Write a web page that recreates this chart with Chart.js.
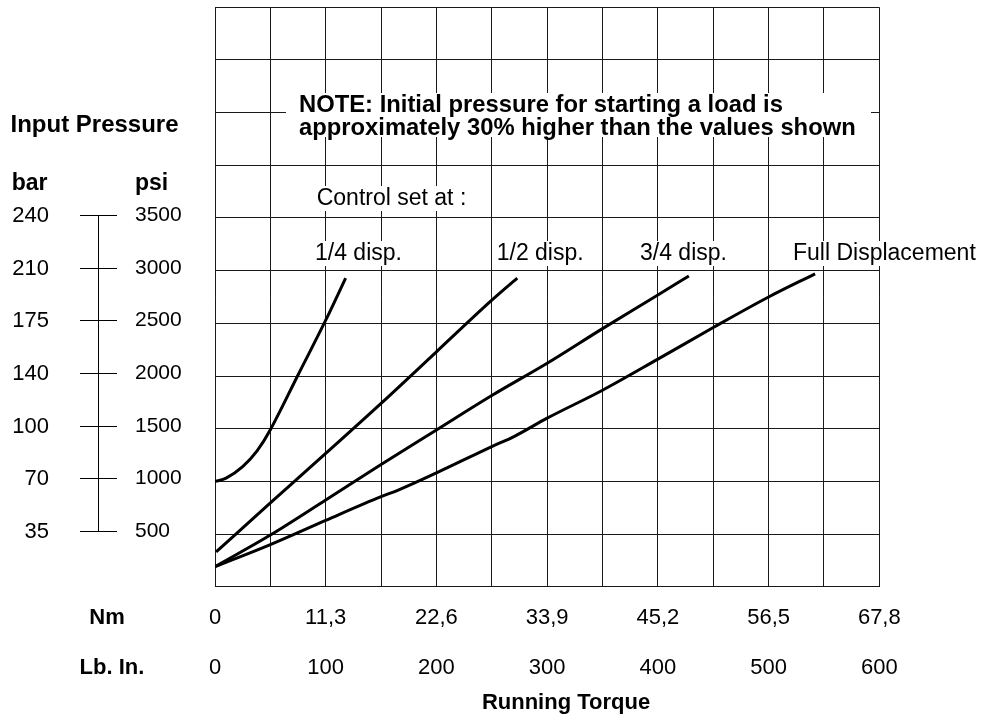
<!DOCTYPE html>
<html>
<head>
<meta charset="utf-8">
<script src="https://cdn.jsdelivr.net/npm/chart.js@4/dist/chart.umd.min.js"></script>
<style>
  body { margin: 0; background: #fff; }
  #wrap { width: 986px; height: 719px; position: relative; }
</style>
</head>
<body>
<div id="wrap"><canvas id="torqueChart"></canvas></div>
<script>
// tick labels
const lbInTicks = ['0', '100', '200', '300', '400', '500', '600'];
const nmTicks = ['0', '11,3', '22,6', '33,9', '45,2', '56,5', '67,8'];
const psiTicks = [500, 1000, 1500, 2000, 2500, 3000, 3500];
const barTicks = [35, 70, 100, 140, 175, 210, 240];

// curves: running torque (lb.in) vs input pressure (psi)
const quarterTorque = [0, 10, 25, 38, 50, 75, 100, 118];
const quarterPsi = [1000, 1030, 1140, 1290, 1490, 2010, 2530, 2930];
const halfTorque = [1, 50, 100, 150, 200, 250, 273];
const halfPsi = [330, 795, 1265, 1740, 2230, 2720, 2930];
const threeQTorque = [0, 50, 100, 150, 200, 250, 300, 350, 400, 428];
const threeQPsi = [190, 490, 823, 1160, 1488, 1815, 2121, 2450, 2769, 2950];
const fullTorque = [0, 50, 100, 150, 165, 200, 250, 270, 300, 350, 400, 450, 500, 542];
const fullPsi = [190, 400, 630, 855, 915, 1080, 1330, 1425, 1600, 1865, 2160, 2460, 2750, 2970];

const FAM = "'Liberation Sans', Arial, Helvetica, sans-serif";
Chart.defaults.font.family = FAM;
Chart.defaults.color = '#000';

function pts(xs, ys) {
  return xs.map((x, i) => ({ x: x, y: ys[i] }));
}

function curve(label, xs, ys, smooth) {
  return {
    label: label,
    data: pts(xs, ys),
    borderColor: '#000',
    borderWidth: 3,
    pointRadius: 0,
    fill: false,
    tension: smooth ? 0.4 : 0,
    cubicInterpolationMode: smooth ? 'default' : 'monotone'
  };
}

function boxedText(ctx, text, x, yBase, font) {
  ctx.font = font;
  const w = ctx.measureText(text).width;
  ctx.fillStyle = '#fff';
  ctx.fillRect(x - 2, yBase - 19, w + 4, 25);
  ctx.fillStyle = '#000';
  ctx.fillText(text, x, yBase);
}

const annotations = {
  id: 'annotations',
  beforeDatasetsDraw(chart) {
    const ctx = chart.ctx;
    const y = chart.scales.y;
    ctx.save();
    ctx.textBaseline = 'alphabetic';
    ctx.textAlign = 'left';

    // note box
    ctx.fillStyle = '#fff';
    ctx.fillRect(286, 93, 585, 44);
    ctx.fillStyle = '#000';
    ctx.font = 'bold 23.8px ' + FAM;
    ctx.fillText('NOTE: Initial pressure for starting a load is', 299, 111.7);
    ctx.fillText('approximately 30% higher than the values shown', 299, 135);

    const reg = '23px ' + FAM;
    boxedText(ctx, 'Control set at :', 316.7, 205, reg);
    boxedText(ctx, '1/4 disp.', 315, 260, reg);
    boxedText(ctx, '1/2 disp.', 496.7, 260, reg);
    boxedText(ctx, '3/4 disp.', 640, 260, reg);
    boxedText(ctx, 'Full Displacement', 793, 260, reg);

    // left pressure scale
    ctx.font = 'bold 24px ' + FAM;
    ctx.fillText('Input Pressure', 10.5, 132);
    ctx.font = 'bold 23px ' + FAM;
    ctx.fillText('bar', 11.7, 190);
    ctx.fillText('psi', 135, 190);

    ctx.font = '21px ' + FAM;
    ctx.textBaseline = 'middle';
    ctx.strokeStyle = '#000';
    ctx.lineWidth = 1;
    psiTicks.forEach((v, i) => {
      const py = Math.round(y.getPixelForValue(v)) - 2.5;
      ctx.textAlign = 'right';
      ctx.font = '22px ' + FAM;
      ctx.fillText(String(barTicks[i]), 49, py);
      ctx.textAlign = 'left';
      ctx.font = '21px ' + FAM;
      ctx.fillText(String(v), 135, py);
      ctx.beginPath();
      ctx.moveTo(80, py);
      ctx.lineTo(117, py);
      ctx.stroke();
    });
    const topY = Math.round(y.getPixelForValue(psiTicks[psiTicks.length - 1])) - 2.5;
    const botY = Math.round(y.getPixelForValue(psiTicks[0])) - 2.5;
    ctx.beginPath();
    ctx.moveTo(98.5, topY);
    ctx.lineTo(98.5, botY);
    ctx.stroke();

    // bottom row titles
    ctx.font = 'bold 22px ' + FAM;
    ctx.textAlign = 'center';
    ctx.fillText('Nm', 107, 618);
    ctx.fillText('Lb. In.', 112, 668);
    ctx.fillText('Running Torque', 566, 703);
    ctx.restore();
  }
};

const ctx = document.getElementById('torqueChart').getContext('2d');
const torqueChart = new Chart(ctx, {
  type: 'line',
  data: {
    datasets: [
      curve('1/4 disp.', quarterTorque, quarterPsi, true),
      curve('1/2 disp.', halfTorque, halfPsi, false),
      curve('3/4 disp.', threeQTorque, threeQPsi, false),
      curve('Full Displacement', fullTorque, fullPsi, false)
    ]
  },
  options: {
    responsive: true,
    maintainAspectRatio: false,
    animation: false,
    layout: {
      padding: { left: 215, right: 106.7, top: 7.3, bottom: 0 }
    },
    plugins: {
      legend: { display: false },
      tooltip: { enabled: false }
    },
    scales: {
      y: {
        type: 'linear',
        min: 0,
        max: 5500,
        ticks: { stepSize: 500, display: false },
        grid: { color: '#1a1a1a', lineWidth: 1, drawTicks: false },
        border: { display: false },
        afterFit: (s) => { s.width = 0; }
      },
      xNm: {
        type: 'linear',
        position: 'bottom',
        weight: 1,
        min: 0,
        max: 600,
        ticks: {
          stepSize: 100,
          autoSkip: false,
          maxRotation: 0,
          padding: 18,
          font: { size: 22 },
          callback: (v) => nmTicks[v / 100]
        },
        grid: { display: false, drawTicks: false },
        border: { display: false },
        afterFit: (s) => { s.height = 45; }
      },
      x: {
        type: 'linear',
        position: 'bottom',
        weight: 2,
        min: 0,
        max: 600,
        ticks: {
          stepSize: 50,
          autoSkip: false,
          maxRotation: 0,
          padding: 23,
          font: { size: 22 },
          callback: (v) => (v % 100 === 0 ? lbInTicks[v / 100] : '')
        },
        grid: { color: '#1a1a1a', lineWidth: 1, drawTicks: false },
        border: { display: false },
        afterFit: (s) => { s.height = 87.3; }
      }
    }
  },
  plugins: [annotations]
});
</script>
</body>
</html>
